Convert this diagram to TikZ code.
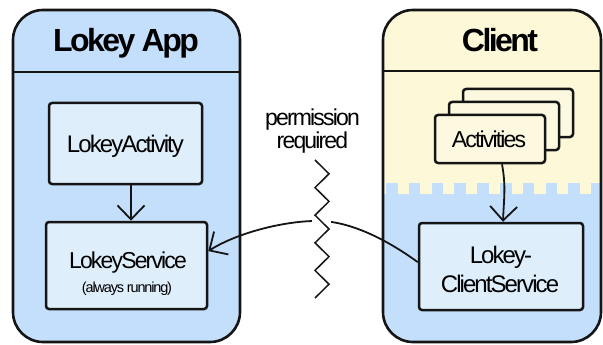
\documentclass[tikz,border=0pt]{standalone}
\usepackage{fontspec}
\setmainfont{Liberation Sans}[LetterSpace=-8]
\usetikzlibrary{arrows.meta}

\definecolor{appblue}{HTML}{C4DFFB}
\definecolor{boxblue}{HTML}{DFEEFB}
\definecolor{clientyellow}{HTML}{FDF9D8}
\definecolor{actyellow}{HTML}{FCF9E0}
\definecolor{ink}{HTML}{151515}

\tikzset{
  container/.style={draw=ink, line width=2.6pt, rounded corners=30pt},
  divider/.style={draw=ink, line width=2.2pt},
  component/.style={draw=ink, fill=boxblue, line width=2.5pt, rounded corners=3pt,
    inner sep=0pt},
  actbox/.style={component, fill=actyellow, minimum width=110pt, minimum height=48pt},
  title/.style={font=\fontsize{32}{34}\selectfont\bfseries, anchor=base},
  lbl/.style={anchor=base, inner sep=0pt, font=\fontsize{24}{29}\selectfont},
  flow/.style={draw=ink, line width=1.8pt,
    -{Straight Barb[length=14pt,width=27pt]}},
  zig/.style={draw=ink, line width=1.5pt, line join=miter},
}

\begin{document}
\begin{tikzpicture}[x=1pt, y=-1pt]
\useasboundingbox (0,0) rectangle (603,345);

% ---- Lokey App container
\draw[container, fill=appblue] (13,10) rectangle (240,342);
\draw[divider] (13,72) -- (240,72);
\node[title] (apptitle) at (126,52) {Lokey App};

% ---- Client container: yellow top, blue bottom with a crenellated border
\begin{scope}
  \clip[rounded corners=30pt] (383,10) rectangle (601,342);
  \fill[clientyellow] (383,10) rectangle (601,342);
  \fill[appblue] (383,194) rectangle (601,342);
  \foreach \k in {0,...,9}
    \fill[appblue] ({386+22.8*\k},183) rectangle ++(11.5,11);
\end{scope}
\draw[container] (383,10) rectangle (601,342);
\draw[divider] (383,71) -- (601,71);
\node[title] (clienttitle) at (500,52) {Client};

% ---- components of the app
\node[component, minimum width=153pt, minimum height=81pt] (act) at (125.5,143.5) {};
\node[lbl] (actlbl) at (125.5,152) {LokeyActivity};
\node[component, minimum width=161pt, minimum height=87pt] (ls) at (126.5,265.5) {};
\node[lbl, font=\fontsize{23}{29}\selectfont] (lslbl) at (128,268) {LokeyService};
\node[lbl, font=\fontsize{14.5}{16}\selectfont] (lsnote) at (127,292) {(always running)};

% ---- components of the client
\node[actbox] (act3) at (518,113) {};
\node[actbox] (act2) at (504,126) {};
\node[actbox] (acts) at (490,139) {};
\node[lbl, font=\fontsize{23}{29}\selectfont] (actslbl) at (489,147) {Activities};
\node[component, minimum width=164pt, minimum height=87pt] (cs) at (501,266.5) {};
\node[lbl] (cslbl1) at (501,263) {Lokey-};
\node[lbl] (cslbl2) at (500,292) {ClientService};

% ---- arrows
\draw[flow] (act.south -| 131,0) -- (ls.north -| 131,0);
\draw[flow] (acts.south -| 502,0) .. controls +(4,22) and +(1,-25) .. (cs.north -| 503,0);

\coordinate (crest) at (321,221);
\draw[flow] (cs.177) .. controls +(-33,-24) and +(29,1) .. (crest)
  .. controls +(-31,-1) and +(32,-20) .. (ls.10);

% ---- permission barrier
\fill[white] (312,212) rectangle (331,232);
\draw[zig] (315,160) -- (329,173.8) -- (315,187.6) -- (329,201.4) -- (315,215.2)
  -- (329,229) -- (315,242.8) -- (329,256.6) -- (315,270.4) -- (329,284.2) -- (315,298);
\node[lbl, align=center, font=\fontsize{23}{20}\selectfont] (perm) at (312.5,148)
  {permission\\required};
\end{tikzpicture}
\end{document}
